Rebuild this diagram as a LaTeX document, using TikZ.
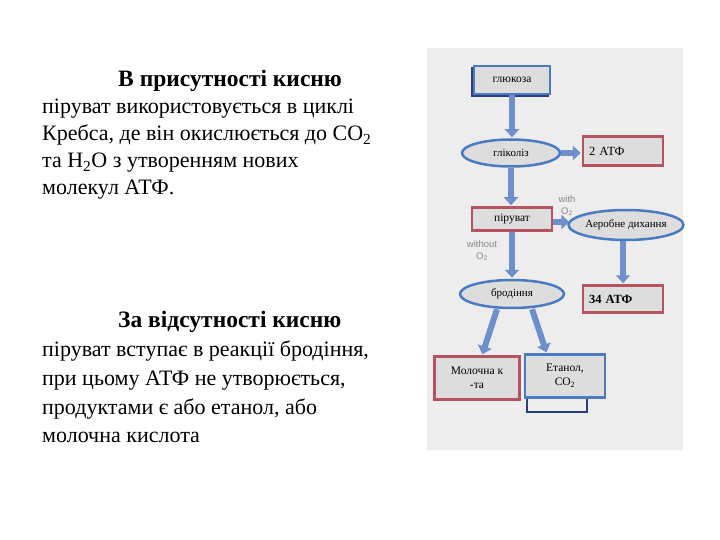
\documentclass[tikz,border=0pt]{standalone}
\usepackage{fontspec}
\setmainfont{Liberation Serif}
\newfontfamily\lsans{Liberation Sans}
\usetikzlibrary{arrows.meta,shapes.geometric,calc}
\definecolor{panel}{HTML}{EDEDED}
\definecolor{boxfill}{HTML}{DDDDDD}
\definecolor{bblue}{HTML}{4A7BC0}
\definecolor{navy}{HTML}{2B3F7A}
\definecolor{bred}{HTML}{B5535E}
\definecolor{arr}{HTML}{6E8FCC}
\definecolor{lbl}{HTML}{8A8A8A}
\tikzset{
  maintext/.style={anchor=base west, inner sep=0, font=\fontsize{22}{27}\selectfont},
  headtext/.style={anchor=base west, inner sep=0, font=\fontsize{23.5}{27}\selectfont\bfseries},
  rbox/.style={draw=bred, line width=2.5pt, fill=boxfill, inner sep=0, font=\fontsize{11.5}{14}\selectfont, align=center},
  bbox/.style={draw=bblue, line width=2.5pt, fill=boxfill, inner sep=0, font=\fontsize{11.5}{14}\selectfont, align=center},
  ell/.style={ellipse, draw=bblue, line width=2.5pt, fill=boxfill, inner sep=0, font=\fontsize{11}{13}\selectfont},
  flow/.style={draw=arr, line width=6pt, -{Triangle[width=14pt,length=8pt]}, shorten >=1pt},
  olbl/.style={text=lbl, font=\lsans\fontsize{9.5}{11.5}\selectfont, align=center, inner sep=0}
}
\begin{document}
\begin{tikzpicture}[x=1pt,y=-1pt]
\useasboundingbox (0,0) rectangle (720,540);
% left text
\node[headtext] (h1) at (118,87) {В присутності кисню};
\node[maintext] (l11) at (42,114) {піруват використовується в циклі};
\node[maintext] (l12) at (42,141) {Кребса, де він окислюється до CO\textsubscript{2}};
\node[maintext] (l13) at (42,168) {та H\textsubscript{2}O з утворенням нових};
\node[maintext] (l14) at (42,195) {молекул АТФ.};
\node[headtext] (h2) at (118,327) {За відсутності кисню};
\node[maintext] (l21) at (42,356) {піруват вступає в реакції бродіння,};
\node[maintext] (l22) at (42,385) {при цьому АТФ не утворюється,};
\node[maintext] (l23) at (42,414) {продуктами є або етанол, або};
\node[maintext] (l24) at (42,442) {молочна кислота};
% panel
\fill[panel] (427,48) rectangle (683,450);
% nodes
\fill[navy] (471,67) rectangle (549,97);
\node[bbox, minimum width=76pt, minimum height=28pt] (glu) at (512,80) {глюкоза};
\node[ell, minimum width=98pt, minimum height=27pt] (glik) at (511,153) {гліколіз};
\node[rbox, minimum width=80pt, minimum height=29pt, text width=68pt, align=left, font=\fontsize{12.5}{14}\selectfont] (atp2) at (623,151) {2 АТФ};
\node[rbox, minimum width=80pt, minimum height=23pt] (pir) at (512,219) {піруват};
\node[ell, minimum width=101pt, minimum height=30pt] (aer) at (626,225) {Аеробне дихання};
\node[rbox, minimum width=80pt, minimum height=27pt, text width=68pt, align=left, font=\fontsize{12.5}{14}\selectfont\bfseries] (atp34) at (623,299) {34 АТФ};
\node[ell, minimum width=104pt, minimum height=28pt] (brod) at (512,294) {бродіння};
\node[rbox, minimum width=85pt, minimum height=43pt] (mol) at (477,378) {Молочна к\\-та};
\draw[navy, line width=2pt] (527,390) rectangle (587,412);
\node[bbox, minimum width=80pt, minimum height=43pt] (eth) at (565,376) {Етанол,\\CO\textsubscript{2}};
% labels
\node[olbl] (with) at (567,206) {with\\O\textsubscript{2}};
\node[olbl] (without) at (482,251) {without\\O\textsubscript{2}};
% arrows
\draw[flow] (glu.south) -- (glu.south |- glik.north);
\draw[flow] (glik.east) -- (glik.east -| atp2.west);
\draw[flow] (glik.south) -- (glik.south |- pir.north);
\draw[flow] ($(pir.east)+(0,3)$) -- ($(pir.east -| aer.west)+(3,3)$);
\draw[flow] ($(aer.south)+(-3,0)$) -- ($(aer.south |- atp34.north)+(-3,0)$);
\draw[flow] (pir.south) -- (pir.south |- brod.north);
\coordinate (b1) at ($(brod.south)+(-15,0)$);
\coordinate (b2) at ($(brod.south)+(20,0)$);
\draw[flow] (b1) -- ($(mol.north)+(5,0)$);
\draw[flow] (b2) -- ($(eth.north west)+(23,0)$);
\end{tikzpicture}
\end{document}
